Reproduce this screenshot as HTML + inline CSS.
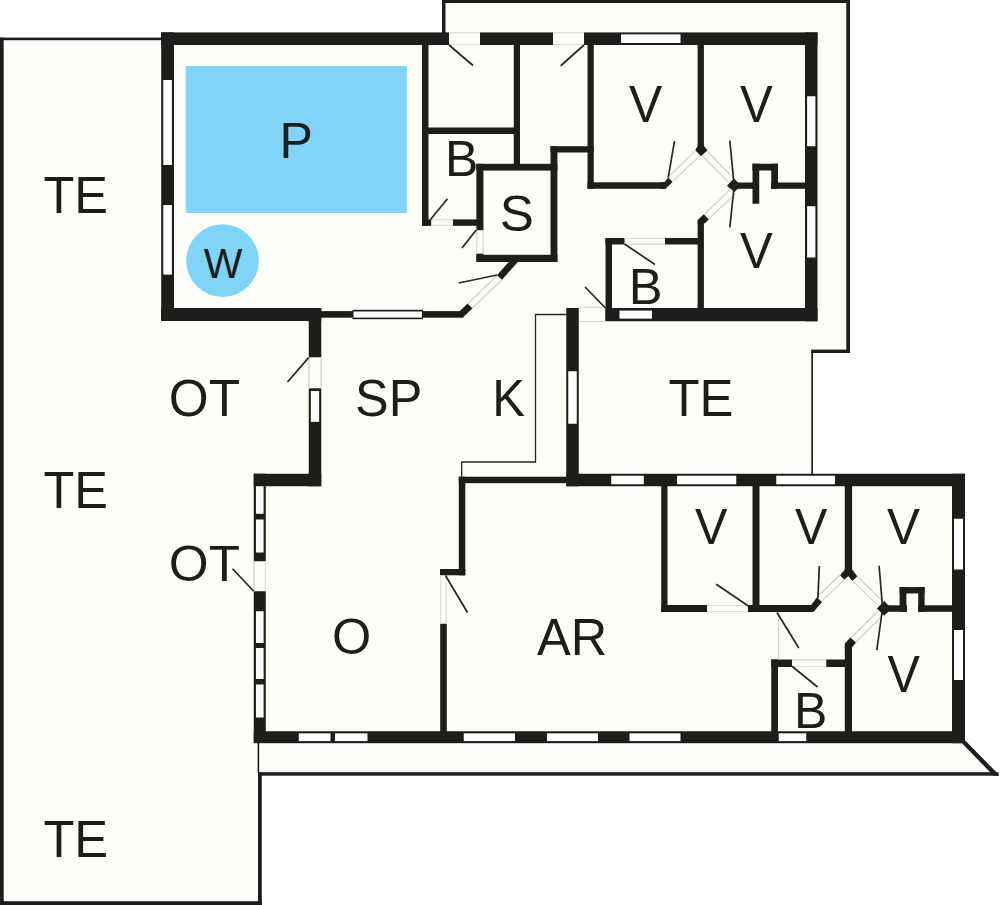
<!DOCTYPE html>
<html><head><meta charset="utf-8"><title>Floor plan</title>
<style>
html,body{margin:0;padding:0;background:#fff;}
svg{display:block}
text{font-family:"Liberation Sans",sans-serif;fill:#1d1d1b;}
</style></head><body>
<svg width="1000" height="905" viewBox="0 0 1000 905">
<rect width="1000" height="905" fill="#ffffff"/>
<polygon points="0,38 161,38 161,32 442,32 442,0 850,0 850,353 813,353 813,474 965,474 965,742.5 999,775.5 261.75,775.5 261.75,905 0,905" fill="#fefef8"/>
<rect x="0" y="37.6" width="162" height="2.6" fill="#1d1d1b"/>
<rect x="0" y="37.6" width="3.7" height="867.4" fill="#1d1d1b"/>
<rect x="0" y="901.2" width="261.8" height="3.8" fill="#1d1d1b"/>
<rect x="258" y="772.5" width="3.8" height="132.5" fill="#1d1d1b"/>
<rect x="258" y="772.2" width="740.5" height="3.5" fill="#1d1d1b"/>
<polygon points="965.2,740.5 999.2,775 998.5,775.7 993.6,775.7 962.2,743.6" fill="#1d1d1b"/>
<rect x="257.6" y="742" width="1.6" height="31" fill="#1d1d1b"/>
<rect x="442" y="0" width="3.5" height="33" fill="#1d1d1b"/>
<rect x="442" y="0" width="408" height="3" fill="#1d1d1b"/>
<rect x="846.3" y="0" width="3.7" height="353" fill="#1d1d1b"/>
<rect x="811.2" y="349.6" width="38.8" height="3.4" fill="#1d1d1b"/>
<rect x="811.3" y="352" width="1.7" height="122" fill="#1d1d1b"/>
<rect x="185.75" y="66" width="221" height="147" fill="#7fd4f7"/>
<circle cx="222.5" cy="260.6" r="36.3" fill="#7fd4f7"/>
<rect x="161" y="32.4" width="656.5" height="12.6" fill="#1d1d1b"/>
<rect x="621" y="34.4" width="59.5" height="8.6" fill="#ffffff"/>
<rect x="449" y="32.2" width="31" height="13" fill="#fdfdf9"/>
<line x1="449" y1="32.9" x2="480" y2="32.9" stroke="#dededa" stroke-width="1.2"/>
<line x1="449" y1="44.5" x2="480" y2="44.5" stroke="#dededa" stroke-width="1.2"/>
<rect x="553" y="32.2" width="31" height="13" fill="#fdfdf9"/>
<line x1="553" y1="32.9" x2="584" y2="32.9" stroke="#dededa" stroke-width="1.2"/>
<line x1="553" y1="44.5" x2="584" y2="44.5" stroke="#dededa" stroke-width="1.2"/>
<rect x="161.2" y="32.4" width="12.8" height="288.6" fill="#1d1d1b"/>
<rect x="163.3" y="80" width="8.6" height="85" fill="#ffffff"/>
<rect x="163.3" y="205" width="8.6" height="69.6" fill="#ffffff"/>
<rect x="161" y="308" width="160.25" height="13" fill="#1d1d1b"/>
<rect x="321" y="311.1" width="142.5" height="6.6" fill="#1d1d1b"/>
<rect x="352.5" y="309.8" width="70.5" height="9.4" fill="#1d1d1b"/>
<rect x="353.5" y="311.5" width="68.5" height="6.1" fill="#ffffff"/>
<polygon points="463.338,316.968 472.838,307.968 468.162,303.032 458.662,312.032" fill="#1d1d1b"/>
<rect x="805" y="32.4" width="12.5" height="288.85" fill="#1d1d1b"/>
<rect x="807.1" y="96.25" width="8.3" height="50" fill="#ffffff"/>
<rect x="807.1" y="206.25" width="8.3" height="51.25" fill="#ffffff"/>
<rect x="605.5" y="308" width="212" height="13.25" fill="#1d1d1b"/>
<rect x="619.5" y="310.6" width="32.5" height="8.05" fill="#ffffff"/>
<rect x="422" y="45" width="6.5" height="180.8" fill="#1d1d1b"/>
<rect x="428" y="127.5" width="92" height="6.5" fill="#1d1d1b"/>
<rect x="513.75" y="45" width="6.25" height="125" fill="#1d1d1b"/>
<rect x="422" y="219.4" width="61" height="6.4" fill="#1d1d1b"/>
<rect x="431.25" y="219.2" width="21.75" height="6.8" fill="#fdfdf9"/>
<line x1="431.25" y1="219.9" x2="453" y2="219.9" stroke="#dededa" stroke-width="1.2"/>
<line x1="431.25" y1="225.3" x2="453" y2="225.3" stroke="#dededa" stroke-width="1.2"/>
<rect x="476.4" y="163.8" width="81" height="6.8" fill="#1d1d1b"/>
<rect x="476.4" y="163.8" width="7" height="98.2" fill="#1d1d1b"/>
<rect x="476.2" y="230.2" width="7.4" height="23.4" fill="#fdfdf9"/>
<line x1="476.9" y1="230.2" x2="476.9" y2="253.6" stroke="#dededa" stroke-width="1.2"/>
<line x1="482.9" y1="230.2" x2="482.9" y2="253.6" stroke="#dededa" stroke-width="1.2"/>
<rect x="476.4" y="254.8" width="81" height="7.2" fill="#1d1d1b"/>
<rect x="550.5" y="146.25" width="6.9" height="115.75" fill="#1d1d1b"/>
<rect x="550.5" y="146.2" width="43.25" height="6.3" fill="#1d1d1b"/>
<rect x="587.5" y="45" width="6.25" height="143.75" fill="#1d1d1b"/>
<rect x="587.5" y="182.3" width="78.5" height="6.45" fill="#1d1d1b"/>
<polygon points="660,182.3 664.5,182.3 668.2,177.6 672.6,182 665.5,188.75 660,188.75" fill="#1d1d1b"/>
<rect x="697.6" y="45" width="6.3" height="102" fill="#1d1d1b"/>
<polygon points="697.6,146 695.3,150.3 701,156.2 707.6,150.3 703.9,146" fill="#1d1d1b"/>
<polygon points="727,185.4 734,178.4 741,185.4 734,192.4" fill="#1d1d1b"/>
<rect x="734" y="182.5" width="25" height="6.3" fill="#1d1d1b"/>
<rect x="752.5" y="163.75" width="6.75" height="40" fill="#1d1d1b"/>
<rect x="752.5" y="163.75" width="25.5" height="6.75" fill="#1d1d1b"/>
<rect x="771.25" y="163.75" width="6.75" height="25" fill="#1d1d1b"/>
<rect x="771" y="182.5" width="35" height="6.3" fill="#1d1d1b"/>
<rect x="697.6" y="222" width="6.3" height="87" fill="#1d1d1b"/>
<polygon points="697.6,224 697.6,220 704,214 708.8,219.6 703.9,224" fill="#1d1d1b"/>
<rect x="605.5" y="238" width="6.5" height="83" fill="#1d1d1b"/>
<rect x="605.5" y="238" width="92.5" height="6.5" fill="#1d1d1b"/>
<rect x="624.5" y="237.8" width="40.5" height="6.9" fill="#fdfdf9"/>
<line x1="624.5" y1="238.5" x2="665" y2="238.5" stroke="#dededa" stroke-width="1.2"/>
<line x1="624.5" y1="244" x2="665" y2="244" stroke="#dededa" stroke-width="1.2"/>
<polygon points="513.463,256.737 496.963,275.237 502.037,279.763 518.537,261.263" fill="#1d1d1b"/>
<polygon points="673.418,180.906 699.618,155.706 695.182,151.094 668.982,176.294" fill="#fdfdf9"/>
<line x1="673.418" y1="180.906" x2="699.618" y2="155.706" stroke="#d0d0cc" stroke-width="1.2"/>
<line x1="668.982" y1="176.294" x2="695.182" y2="151.094" stroke="#d0d0cc" stroke-width="1.2"/>
<polygon points="702.607,155.732 728.507,182.332 733.093,177.868 707.193,151.268" fill="#fdfdf9"/>
<line x1="702.607" y1="155.732" x2="728.507" y2="182.332" stroke="#d0d0cc" stroke-width="1.2"/>
<line x1="707.193" y1="151.268" x2="733.093" y2="177.868" stroke="#d0d0cc" stroke-width="1.2"/>
<polygon points="731.094,188.882 704.194,214.482 708.606,219.118 735.506,193.518" fill="#fdfdf9"/>
<line x1="731.094" y1="188.882" x2="704.194" y2="214.482" stroke="#d0d0cc" stroke-width="1.2"/>
<line x1="735.506" y1="193.518" x2="708.606" y2="219.118" stroke="#d0d0cc" stroke-width="1.2"/>
<polygon points="496.777,275.698 467.777,303.698 472.223,308.302 501.223,280.302" fill="#fdfdf9"/>
<line x1="496.777" y1="275.698" x2="467.777" y2="303.698" stroke="#d0d0cc" stroke-width="1.2"/>
<line x1="501.223" y1="280.302" x2="472.223" y2="308.302" stroke="#d0d0cc" stroke-width="1.2"/>
<line x1="578.75" y1="307.2" x2="605.5" y2="307.2" stroke="#d0d0cc" stroke-width="1"/>
<line x1="578.75" y1="321.6" x2="605.5" y2="321.6" stroke="#d0d0cc" stroke-width="1"/>
<rect x="566.25" y="308" width="12.5" height="178.25" fill="#1d1d1b"/>
<rect x="568.25" y="371.25" width="8.5" height="52.5" fill="#ffffff"/>
<rect x="308.75" y="308" width="12.5" height="178.25" fill="#1d1d1b"/>
<rect x="310.85" y="391" width="8.3" height="30.8" fill="#ffffff"/>
<rect x="308.55" y="357.3" width="12.9" height="31" fill="#fdfdf9"/>
<line x1="309.25" y1="357.3" x2="309.25" y2="388.3" stroke="#dededa" stroke-width="1.2"/>
<line x1="320.75" y1="357.3" x2="320.75" y2="388.3" stroke="#dededa" stroke-width="1.2"/>
<rect x="253.75" y="473.75" width="67.5" height="12.5" fill="#1d1d1b"/>
<rect x="253.75" y="473.75" width="12.05" height="269.25" fill="#1d1d1b"/>
<rect x="255.95" y="486.25" width="7.65" height="27.5" fill="#ffffff"/>
<rect x="255.95" y="519.5" width="7.65" height="33" fill="#ffffff"/>
<rect x="255.95" y="611.25" width="7.65" height="31.75" fill="#ffffff"/>
<rect x="255.95" y="648" width="7.65" height="31" fill="#ffffff"/>
<rect x="255.95" y="684.5" width="7.65" height="33" fill="#ffffff"/>
<rect x="253.55" y="561.25" width="12.45" height="30" fill="#fdfdf9"/>
<line x1="254.25" y1="561.25" x2="254.25" y2="591.25" stroke="#dededa" stroke-width="1.2"/>
<line x1="265.3" y1="561.25" x2="265.3" y2="591.25" stroke="#dededa" stroke-width="1.2"/>
<rect x="253.75" y="731.25" width="711.25" height="11.95" fill="#1d1d1b"/>
<rect x="298.75" y="733.35" width="31.75" height="7.75" fill="#ffffff"/>
<rect x="335" y="733.35" width="32.5" height="7.75" fill="#ffffff"/>
<rect x="463.75" y="733.35" width="51.25" height="7.75" fill="#ffffff"/>
<rect x="547" y="733.35" width="51" height="7.75" fill="#ffffff"/>
<rect x="629.5" y="733.35" width="51" height="7.75" fill="#ffffff"/>
<rect x="778.75" y="733.35" width="27.5" height="7.75" fill="#ffffff"/>
<rect x="566.25" y="473.75" width="398.75" height="12.5" fill="#1d1d1b"/>
<rect x="611.25" y="475.75" width="32.5" height="8.5" fill="#ffffff"/>
<rect x="677" y="475.75" width="59.25" height="8.5" fill="#ffffff"/>
<rect x="776.25" y="475.75" width="58.75" height="8.5" fill="#ffffff"/>
<rect x="952" y="473.75" width="13" height="269.45" fill="#1d1d1b"/>
<rect x="954" y="518.75" width="9" height="50.75" fill="#ffffff"/>
<rect x="954" y="630" width="9" height="50" fill="#ffffff"/>
<rect x="458.8" y="476.7" width="108.2" height="6.5" fill="#1d1d1b"/>
<rect x="458.8" y="476.7" width="6.5" height="98.6" fill="#1d1d1b"/>
<rect x="440" y="569" width="25.3" height="6.3" fill="#1d1d1b"/>
<rect x="440.2" y="575.3" width="6.6" height="156.7" fill="#1d1d1b"/>
<rect x="440" y="575.3" width="7" height="48.45" fill="#fdfdf9"/>
<line x1="440.7" y1="575.3" x2="440.7" y2="623.75" stroke="#dededa" stroke-width="1.2"/>
<line x1="446.3" y1="575.3" x2="446.3" y2="623.75" stroke="#dededa" stroke-width="1.2"/>
<rect x="661.25" y="486" width="6.25" height="126" fill="#1d1d1b"/>
<rect x="661.25" y="605" width="151.25" height="7" fill="#1d1d1b"/>
<rect x="707" y="604.8" width="41" height="7.4" fill="#fdfdf9"/>
<line x1="707" y1="605.5" x2="748" y2="605.5" stroke="#dededa" stroke-width="1.2"/>
<line x1="707" y1="611.5" x2="748" y2="611.5" stroke="#dededa" stroke-width="1.2"/>
<polygon points="806,605.2 811,605.2 816.8,597.6 822.1,602.1 813.6,611.8 806,611.8" fill="#1d1d1b"/>
<rect x="752.5" y="486" width="7" height="126" fill="#1d1d1b"/>
<rect x="844.8" y="486" width="7.3" height="85" fill="#1d1d1b"/>
<polygon points="844.8,569.6 839.9,575.6 844.1,579.8 848.3,576.3 852.5,581.1 857.4,576.6 852.1,569.6" fill="#1d1d1b"/>
<polygon points="876.9,608.4 884.2,601.1 891.5,608.4 884.2,615.7" fill="#1d1d1b"/>
<rect x="882" y="605.3" width="25" height="6.5" fill="#1d1d1b"/>
<rect x="899.6" y="587.1" width="6.8" height="24.7" fill="#1d1d1b"/>
<rect x="899.6" y="587.1" width="25" height="6.4" fill="#1d1d1b"/>
<rect x="918.2" y="587.1" width="6.4" height="24.7" fill="#1d1d1b"/>
<rect x="918.2" y="605.3" width="34.8" height="6.5" fill="#1d1d1b"/>
<rect x="844.8" y="646" width="7.2" height="86" fill="#1d1d1b"/>
<polygon points="844.8,648 844.8,643.5 850.4,637.5 856,642.4 852,647.5 852,648" fill="#1d1d1b"/>
<rect x="771.25" y="659.5" width="6.75" height="72.5" fill="#1d1d1b"/>
<rect x="771.25" y="659.5" width="74.75" height="7.5" fill="#1d1d1b"/>
<rect x="792" y="659.3" width="34.25" height="7.9" fill="#fdfdf9"/>
<line x1="792" y1="660" x2="826.25" y2="660" stroke="#dededa" stroke-width="1.2"/>
<line x1="792" y1="666.5" x2="826.25" y2="666.5" stroke="#dededa" stroke-width="1.2"/>
<line x1="778.6" y1="612" x2="778.6" y2="659.5" stroke="#d0d0cc" stroke-width="1.1"/>
<polygon points="821.989,600.935 844.389,579.935 840.011,575.265 817.611,596.265" fill="#fdfdf9"/>
<line x1="821.989" y1="600.935" x2="844.389" y2="579.935" stroke="#d0d0cc" stroke-width="1.2"/>
<line x1="817.611" y1="596.265" x2="840.011" y2="575.265" stroke="#d0d0cc" stroke-width="1.2"/>
<polygon points="852.775,581.1 877.575,605.1 882.025,600.5 857.225,576.5" fill="#fdfdf9"/>
<line x1="852.775" y1="581.1" x2="877.575" y2="605.1" stroke="#d0d0cc" stroke-width="1.2"/>
<line x1="857.225" y1="576.5" x2="882.025" y2="600.5" stroke="#d0d0cc" stroke-width="1.2"/>
<polygon points="878.237,610.737 851.237,637.737 855.763,642.263 882.763,615.263" fill="#fdfdf9"/>
<line x1="878.237" y1="610.737" x2="851.237" y2="637.737" stroke="#d0d0cc" stroke-width="1.2"/>
<line x1="882.763" y1="615.263" x2="855.763" y2="642.263" stroke="#d0d0cc" stroke-width="1.2"/>
<polyline fill="none" points="566.5,314.5 535.5,314.5 535.5,462 461.7,462 461.7,476.5" stroke="#262624" stroke-width="1.3"/>
<line x1="449" y1="45" x2="473" y2="65.5" stroke="#262624" stroke-width="1.7"/>
<line x1="584" y1="45" x2="560.75" y2="65.75" stroke="#262624" stroke-width="1.7"/>
<line x1="430.5" y1="219.5" x2="447.5" y2="198.75" stroke="#262624" stroke-width="1.7"/>
<line x1="476.25" y1="230" x2="462" y2="248" stroke="#262624" stroke-width="1.7"/>
<line x1="497" y1="275" x2="458.75" y2="283" stroke="#262624" stroke-width="1.7"/>
<line x1="308.6" y1="357.6" x2="287.5" y2="382" stroke="#262624" stroke-width="1.7"/>
<line x1="668.2" y1="177.6" x2="674.5" y2="141.2" stroke="#262624" stroke-width="1.7"/>
<line x1="624.5" y1="244" x2="655" y2="264.5" stroke="#262624" stroke-width="1.7"/>
<line x1="585" y1="287" x2="605.5" y2="308" stroke="#262624" stroke-width="1.7"/>
<line x1="232.5" y1="568.75" x2="253.75" y2="591.25" stroke="#262624" stroke-width="1.7"/>
<line x1="445.5" y1="575.5" x2="467.5" y2="612.5" stroke="#262624" stroke-width="1.7"/>
<line x1="716.25" y1="584.25" x2="748.75" y2="606.25" stroke="#262624" stroke-width="1.7"/>
<line x1="777" y1="612.5" x2="798.75" y2="648" stroke="#262624" stroke-width="1.7"/>
<line x1="819.3" y1="566.1" x2="817.9" y2="598.5" stroke="#262624" stroke-width="1.7"/>
<line x1="792" y1="666.25" x2="817.5" y2="687" stroke="#262624" stroke-width="1.7"/>
<polyline fill="none" points="729.8,140.5 734.2,186 729.8,227.3" stroke="#262624" stroke-width="1.7"/>
<polyline fill="none" points="879.1,565.7 882.6,608 876.8,650.1" stroke="#262624" stroke-width="1.7"/>
<text transform="translate(43.39,213.00) scale(0.9794,1)" font-size="51.60">TE</text>
<text transform="translate(43.39,507.70) scale(0.9794,1)" font-size="51.60">TE</text>
<text transform="translate(43.38,857.20) scale(0.9826,1)" font-size="51.60">TE</text>
<text transform="translate(668.38,415.70) scale(0.9858,1)" font-size="51.60">TE</text>
<text transform="translate(279.60,157.70) scale(0.9914,1)" font-size="50.44">P</text>
<text transform="translate(203.70,278.20) scale(0.9651,1)" font-size="42.44">W</text>
<text transform="translate(444.90,175.80) scale(0.9942,1)" font-size="50.29">B</text>
<text transform="translate(499.75,231.49) scale(1.0112,1)" font-size="50.56">S</text>
<text transform="translate(629.05,121.50) scale(0.9621,1)" font-size="51.89">V</text>
<text transform="translate(740.05,121.50) scale(0.9475,1)" font-size="51.89">V</text>
<text transform="translate(740.05,268.40) scale(0.9664,1)" font-size="50.87">V</text>
<text transform="translate(628.64,304.30) scale(1.0180,1)" font-size="49.85">B</text>
<text transform="translate(168.79,415.68) scale(0.9914,1)" font-size="51.69">OT</text>
<text transform="translate(355.08,415.68) scale(0.9743,1)" font-size="51.69">SP</text>
<text transform="translate(492.28,415.80) scale(0.9504,1)" font-size="51.60">K</text>
<text transform="translate(168.79,581.29) scale(1.0136,1)" font-size="50.56">OT</text>
<text transform="translate(332.03,654.30) scale(1.0046,1)" font-size="50.28">O</text>
<text transform="translate(537.00,655.20) scale(0.9791,1)" font-size="51.60">AR</text>
<text transform="translate(695.06,544.20) scale(0.9655,1)" font-size="50.29">V</text>
<text transform="translate(795.06,544.20) scale(0.9655,1)" font-size="50.29">V</text>
<text transform="translate(887.05,544.20) scale(0.9806,1)" font-size="50.29">V</text>
<text transform="translate(887.56,691.50) scale(0.9410,1)" font-size="51.60">V</text>
<text transform="translate(794.10,728.20) scale(1.0000,1)" font-size="50.00">B</text>
</svg>
</body></html>
